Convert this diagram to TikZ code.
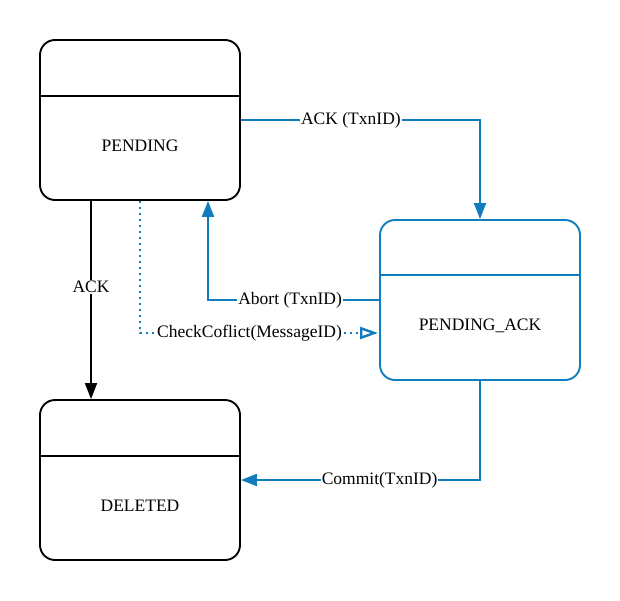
\documentclass[tikz,border=0pt]{standalone}
\usepackage{fontspec}
\setmainfont{Liberation Serif}
\usetikzlibrary{arrows.meta}
\definecolor{bl}{RGB}{16,125,190}
\tikzset{
  statebox/.style={draw, line width=1.9pt, rounded corners=15pt, minimum width=200pt, minimum height=160pt, inner sep=0pt},
  divider/.style={line width=1.9pt},
  lbl/.style={fill=white, inner sep=1pt, font=\fontsize{17.5}{20}\selectfont},
  txt/.style={font=\fontsize{17.5}{20}\selectfont, inner sep=0pt},
  blarrow/.style={draw=bl, line width=1.9pt, -{Triangle[length=16pt,width=12pt]}},
  blkarrow/.style={draw=black, line width=1.9pt, -{Triangle[length=16pt,width=12pt]}},
  dotarrow/.style={draw=bl, line width=2.4pt, dash pattern=on 2.4pt off 3.6pt, -{Triangle[open,length=18pt,width=12pt,line width=2.4pt]}},
}
\begin{document}
\begin{tikzpicture}[x=1pt,y=-1pt]
\useasboundingbox[fill=white] (0,0) rectangle (620,600);
\node[statebox] (p) at (140,120) {};
\node[statebox, draw=bl] (pa) at (480,300) {};
\node[statebox] (d) at (140,480) {};
\draw[divider] ([yshift=-57pt]p.north west) -- ([yshift=-57pt]p.north east);
\draw[divider, draw=bl] ([yshift=-56pt]pa.north west) -- ([yshift=-56pt]pa.north east);
\draw[divider] ([yshift=-57pt]d.north west) -- ([yshift=-57pt]d.north east);
\node[txt] (pt) at (140,146) {PENDING};
\node[txt] (pat) at (480,326) {PENDING\_ACK};
\node[txt] (dt) at (140,506) {DELETED};
% connectors
\draw[blarrow] (p.east) -| node[lbl, pos=0.23] (l1) {ACK (TxnID)} (pa.north);
\draw[blarrow] (pa.west) -| node[lbl, pos=0.26] (l2) {Abort (TxnID)} ([xshift=68pt]p.south);
\draw[dotarrow] (p.south) |- node[lbl, pos=0.73, inner sep=0.5pt] (l3) {CheckCoflict(MessageID)} ([xshift=-1pt,yshift=-33pt]pa.west);
\draw[blkarrow] ([xshift=-49pt]p.south) -- node[lbl, pos=0.435] (l4) {ACK} ([xshift=-49pt]d.north);
\draw[blarrow] (pa.south) |- node[lbl, pos=0.71] (l5) {Commit(TxnID)} (d.east);
\end{tikzpicture}
\end{document}
